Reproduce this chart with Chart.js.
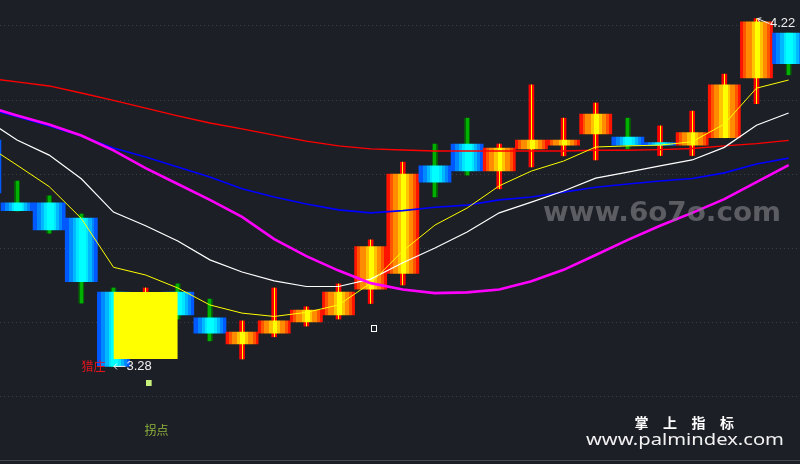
<!DOCTYPE html>
<html>
<head>
<meta charset="utf-8">
<script src="https://cdn.jsdelivr.net/npm/chart.js@4/dist/chart.umd.min.js"></script>
<style>
html,body{margin:0;padding:0;background:#1d1f27;}
#wrap{width:800px;height:464px;position:relative;}
canvas{display:block;}
</style>
</head>
<body>
<div id="wrap"><canvas id="c"></canvas></div>
<script>
// ---- data ----
const candleIndex = [-1,0,1,2,3,4,5,6,7,8,9,10,11,12,13,14,15,16,17,18,19,20,21,22,23,24];
const openPrice  = [3.892,3.722,3.722,3.681,3.481,3.330,3.481,3.411,3.341,3.370,3.400,3.419,3.489,3.531,3.822,3.881,3.808,3.868,3.878,3.908,3.900,3.878,3.878,3.898,4.060,4.181];
const closePrice = [3.749,3.701,3.649,3.509,3.280,3.450,3.419,3.370,3.373,3.403,3.432,3.481,3.604,3.800,3.778,3.808,3.870,3.892,3.892,3.962,3.878,3.878,3.912,4.041,4.211,4.098];
const highPrice  = [3.900,3.781,3.741,3.692,3.492,3.492,3.503,3.462,3.403,3.492,3.441,3.503,3.622,3.832,3.881,3.951,3.881,4.041,3.951,3.992,3.951,3.930,3.970,4.070,4.220,4.181];
const lowPrice   = [3.740,3.700,3.640,3.451,3.280,3.310,3.408,3.349,3.300,3.360,3.389,3.408,3.450,3.500,3.738,3.797,3.760,3.819,3.849,3.838,3.868,3.850,3.850,3.898,3.990,4.068];

const lineRed     = [4.060,4.049,4.038,4.019,3.999,3.978,3.957,3.938,3.922,3.905,3.889,3.876,3.868,3.865,3.862,3.862,3.862,3.862,3.862,3.864,3.864,3.866,3.869,3.876,3.882,3.891];
const lineBlue    = [3.978,3.955,3.930,3.903,3.870,3.846,3.819,3.792,3.760,3.738,3.719,3.703,3.695,3.701,3.710,3.716,3.730,3.738,3.751,3.764,3.773,3.781,3.788,3.803,3.827,3.843];
const lineWhite   = [3.949,3.892,3.851,3.787,3.697,3.660,3.619,3.568,3.535,3.511,3.496,3.496,3.516,3.560,3.600,3.643,3.695,3.724,3.754,3.789,3.805,3.822,3.838,3.872,3.932,3.965];
const lineYellow  = [3.881,3.824,3.766,3.680,3.548,3.527,3.492,3.446,3.424,3.415,3.426,3.446,3.505,3.592,3.662,3.708,3.768,3.808,3.835,3.873,3.876,3.878,3.887,3.935,4.032,4.054];
const lineMagenta = [3.984,3.958,3.934,3.904,3.864,3.816,3.773,3.730,3.684,3.624,3.578,3.539,3.505,3.488,3.478,3.480,3.488,3.510,3.541,3.581,3.622,3.660,3.695,3.732,3.778,3.824];

const gridTicks = [3.2,3.4,3.6,3.8,4.0,4.2];
const boxRange  = [3, 5, 3.481, 3.300];      // x from, x to, top price, bottom price
const lowLabel  = [3, 3.28, '3.28', '猎庄'];
const highLabel = [23, 4.22, '4.22'];
const turnMark  = [4, 3.234];
const turnText  = [4, 3.108, '拐点'];
const hollowMark = [11, 3.383];

// view window
const viewStart = -0.529, viewEnd = 24.354;
const priceMin = 3.02703, priceMax = 4.27027;

// ---- styles ----
const RED_BODY  = [[0,'#ff1400'],[0.09,'#ff5400'],[0.18,'#ff8c00'],[0.35,'#ffc400'],[0.45,'#ffff00'],[0.6,'#ffc400'],[0.69,'#ff8c00'],[0.83,'#ff5400'],[0.92,'#ff1400']];
const BLUE_BODY = [[0,'#0058ff'],[0.12,'#0088ff'],[0.24,'#00b8ff'],[0.35,'#00e6ff'],[0.42,'#00ffff'],[0.64,'#00e6ff'],[0.72,'#00b8ff'],[0.82,'#0088ff'],[0.91,'#0058ff']];
const RED_WICK  = [[0,'#ff0000'],[0.4,'#ffff00'],[0.6,'#ff0000']];
const GREEN_WICK= [[0,'#006a00'],[0.2,'#00b000'],[0.8,'#006a00']];

function stripes(chart, cx, half, defs){
  const g = chart.ctx.createLinearGradient(cx-half,0,cx+half,0);
  for(let k=0;k<defs.length;k++){
    const p=defs[k][0], c=defs[k][1];
    const q = k+1<defs.length ? defs[k+1][0] : 1;
    g.addColorStop(p,c); g.addColorStop(q,c);
  }
  return g;
}
function bodyColor(ctx){
  const i = ctx.dataIndex;
  const up = closePrice[i] > openPrice[i];
  const chart = ctx.chart, xs = chart.scales && chart.scales.x;
  if(ctx.type!=='data' || !xs || !chart.chartArea) return up?'#ff8c00':'#00c0ff';
  const cx = xs.getPixelForValue(candleIndex[i]);
  const half = Math.abs(xs.getPixelForValue(candleIndex[i]+0.5)-cx);
  return stripes(chart,cx,half, up?RED_BODY:BLUE_BODY);
}
function wickColor(ctx){
  const i = ctx.dataIndex;
  const up = closePrice[i] >= openPrice[i];
  const chart = ctx.chart, xs = chart.scales && chart.scales.x;
  if(ctx.type!=='data' || !xs || !chart.chartArea) return up?'#ff0000':'#00a000';
  const cx = xs.getPixelForValue(candleIndex[i]);
  return stripes(chart,cx,2.5, up?RED_WICK:GREEN_WICK);
}

function lineSet(values,color,width,order){
  return {type:'line', data:candleIndex.map((x,i)=>({x:x,y:values[i]})), borderColor:color,
    borderWidth:width, pointRadius:0, pointHoverRadius:0, tension:0, fill:false, order:order};
}

function fitText(ctx,text,left,baseline,width,font,color){
  ctx.save();
  ctx.font=font;
  const w=ctx.measureText(text).width;
  ctx.translate(left,baseline);
  ctx.scale(width/w,1);
  ctx.fillStyle=color;
  ctx.textAlign='left';
  ctx.textBaseline='alphabetic';
  ctx.fillText(text,0,0);
  ctx.restore();
}

const marks = {
  id:'marks',
  afterDatasetsDraw(chart){
    const ctx=chart.ctx, x=chart.scales.x, y=chart.scales.y;
    ctx.save();
    // low label
    let px=x.getPixelForValue(lowLabel[0]), py=y.getPixelForValue(lowLabel[1]);
    ctx.strokeStyle='#f0f0f0'; ctx.lineWidth=1;
    ctx.beginPath();
    ctx.moveTo(px+0.5,py); ctx.lineTo(px+12,py);
    ctx.moveTo(px+0.5,py); ctx.lineTo(px+3.5,py-3);
    ctx.moveTo(px+0.5,py); ctx.lineTo(px+3.5,py+3);
    ctx.stroke();
    ctx.font='13px "Liberation Sans", Arial, sans-serif';
    ctx.fillStyle='#eeeeee'; ctx.textBaseline='middle'; ctx.textAlign='left';
    ctx.fillText(lowLabel[2],px+13,py);
    ctx.font='12px "Noto Sans CJK SC", sans-serif';
    ctx.fillStyle='#e8141c'; ctx.textAlign='right';
    ctx.fillText(lowLabel[3],px-8,py);
    // high label
    px=x.getPixelForValue(highLabel[0]); py=y.getPixelForValue(highLabel[1]);
    const tx=px+1, ty=py, ex=px+13, ey=py+5;
    const ang=Math.atan2(ey-ty,ex-tx);
    ctx.beginPath();
    ctx.moveTo(tx,ty); ctx.lineTo(ex,ey);
    ctx.moveTo(tx,ty); ctx.lineTo(tx+4*Math.cos(ang-0.6),ty+4*Math.sin(ang-0.6));
    ctx.moveTo(tx,ty); ctx.lineTo(tx+4*Math.cos(ang+0.6),ty+4*Math.sin(ang+0.6));
    ctx.stroke();
    ctx.font='13px "Liberation Sans", Arial, sans-serif';
    ctx.fillStyle='#eeeeee'; ctx.textAlign='left'; ctx.textBaseline='middle';
    ctx.fillText(highLabel[2],ex+0.5,ey);
    // turning point square
    px=x.getPixelForValue(turnMark[0]); py=y.getPixelForValue(turnMark[1]);
    ctx.fillStyle='#c8f07c';
    ctx.fillRect(Math.round(px),Math.round(py-3),6,6);
    ctx.fillStyle='#8ea858';
    ctx.fillRect(Math.round(px)+5,Math.round(py-3),1,6);
    // turning point text
    px=x.getPixelForValue(turnText[0]); py=y.getPixelForValue(turnText[1]);
    ctx.font='12px "Noto Sans CJK SC", sans-serif';
    ctx.fillStyle='#8fb33c'; ctx.textAlign='left'; ctx.textBaseline='middle';
    ctx.fillText(turnText[2],px-1,py);
    // hollow square
    px=x.getPixelForValue(hollowMark[0]); py=y.getPixelForValue(hollowMark[1]);
    ctx.strokeStyle='#ffffff'; ctx.lineWidth=1;
    ctx.strokeRect(Math.round(px)+0.5,Math.round(py-3)+0.5,5,6);
    ctx.restore();
  },
  afterDraw(chart){
    const ctx=chart.ctx, a=chart.chartArea;
    ctx.save();
    // bottom frame line
    ctx.strokeStyle='#44474f'; ctx.lineWidth=1;
    ctx.beginPath(); ctx.moveTo(a.left,a.bottom+0.5); ctx.lineTo(a.right,a.bottom+0.5); ctx.stroke();
    // watermarks
    fitText(ctx,'www.6o7o.com',543,221,238,'bold 26px "DejaVu Sans", sans-serif','rgba(130,132,136,0.62)');
    ctx.font='bold 14px "Noto Sans CJK SC", sans-serif';
    ctx.fillStyle='#ffffff'; ctx.textAlign='center'; ctx.textBaseline='middle';
    const chars=['掌','上','指','标'];
    chars.forEach((c,k)=>ctx.fillText(c,641.5+k*28.5,423));
    fitText(ctx,'www.palmindex.com',586,444.5,198,'15.5px "Noto Sans", sans-serif','#f2f2f2');
    ctx.restore();
  }
};

const datasets = [
  {type:'bar', data:candleIndex.map((x,i)=>({x:x,y:[lowPrice[i],highPrice[i]]})), backgroundColor:wickColor,
   borderWidth:0, barThickness:5, grouped:false, order:10},
  {type:'bar', data:candleIndex.map((x,i)=>({x:x,y:[openPrice[i],closePrice[i]]})), backgroundColor:bodyColor,
   borderWidth:0, barPercentage:1, categoryPercentage:1, minBarLength:2.5, grouped:false, order:9},
  {type:'line', data:[{x:boxRange[0],y:boxRange[2]},{x:boxRange[1],y:boxRange[2]}], borderWidth:0, pointRadius:0,
   fill:{value:boxRange[3]}, backgroundColor:'#ffff00', borderColor:'rgba(0,0,0,0)', order:8},
  lineSet(lineRed,'#ff0000',1.4,6),
  lineSet(lineBlue,'#0000ff',1.6,5),
  lineSet(lineWhite,'#ffffff',1.2,4),
  lineSet(lineYellow,'#ffff00',1,3),
  lineSet(lineMagenta,'#ff00ff',2.6,2)
];

new Chart(document.getElementById('c'),{
  data:{datasets:datasets},
  options:{
    responsive:true, maintainAspectRatio:false, animation:false,
    layout:{padding:{left:0,right:0,top:0,bottom:4}},
    plugins:{legend:{display:false}, tooltip:{enabled:false}},
    scales:{
      x:{type:'linear', offset:false, min:viewStart, max:viewEnd, display:false,
         grid:{offset:false},
         afterBuildTicks:s=>{s.ticks=candleIndex.map(v=>({value:v}));}},
      y:{type:'linear', min:priceMin, max:priceMax, display:true,
         afterBuildTicks:s=>{s.ticks=gridTicks.map(v=>({value:v}));},
         ticks:{display:false},
         grid:{color:'#3b3e46', lineWidth:1, drawTicks:false},
         border:{display:false, dash:[1,3]}}
    }
  },
  plugins:[marks]
});
</script>
</body>
</html>
